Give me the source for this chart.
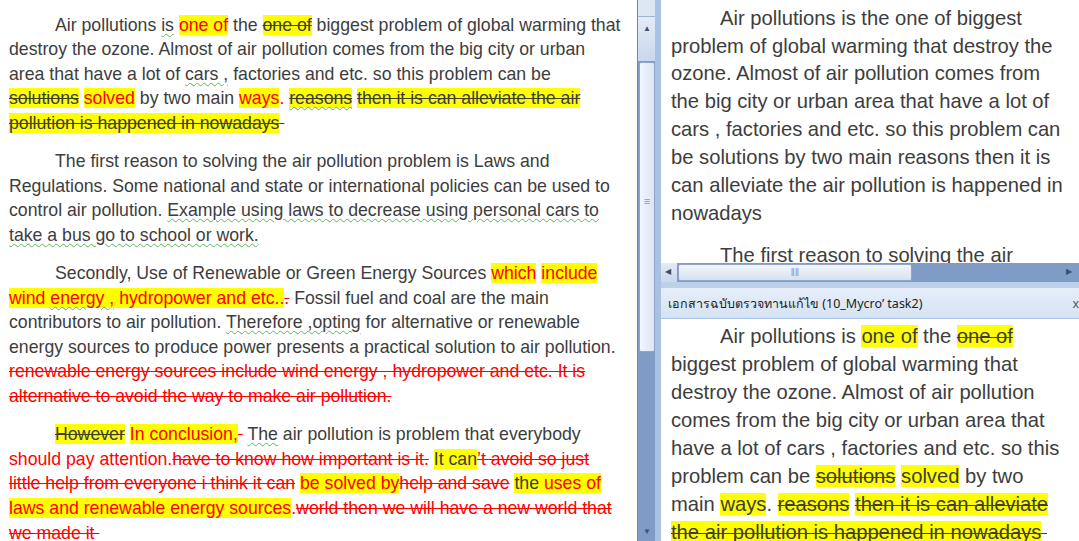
<!DOCTYPE html>
<html>
<head>
<meta charset="utf-8">
<script src="https://cdn.jsdelivr.net/npm/chart.js"></script>
<style>
  html, body { margin: 0; padding: 0; }
  body { width: 1079px; height: 541px; overflow: hidden; position: relative; background: #fff;
         font-family: "Liberation Sans", Arial, sans-serif; color: #3d3d3d; }
  .pane { position: absolute; overflow: hidden; background: #fff; }
  .line { white-space: pre; }
  .r { color: #ff0000; }
  .h { background: #ffff00; }
  .s { text-decoration: line-through; text-decoration-thickness: 1px; }
  .w { text-decoration: underline wavy #5cb85c; text-decoration-thickness: 1px; text-underline-offset: 2px; }
  #left { left: 0; top: 0; width: 637px; height: 541px; font-size: 17.7px; line-height: 24.6px; }
  #left .doc { padding: 12.5px 0 0 9px; }
  #left .para { margin-bottom: 13.6px; }
  #left .first { padding-left: 46px; }
  #vbar { position: absolute; left: 637px; top: 0; width: 18px; height: 541px; background: #7f9cc6; border-left: 1px solid #6d86ad; box-sizing: border-box; }
  #vbar .btn { position: absolute; left: 0; width: 17px; background: linear-gradient(#e3ebf6, #c9d8ec); }
  #vbar .thumb { position: absolute; left: 1px; width: 14px; top: 62px; height: 288px; border: 1px solid #8ea5c7; border-radius: 2px;
                 background: linear-gradient(90deg, #f3f6fb, #dbe5f2); color: #8a9ab3; font-size: 11px; text-align: center; }
  .tri { position: absolute; font-size: 8px; color: #3f4f6a; }
  #split { position: absolute; left: 655px; top: 0; width: 6px; height: 541px; background: #a9c1e3; }
  #rtop { left: 661px; top: 0; width: 418px; height: 263px; font-size: 20.2px; line-height: 27.9px; }
  #rbot { left: 661px; top: 320px; width: 418px; height: 221px; font-size: 20.2px; line-height: 28px; }
  .rdoc { padding-left: 10px; }
  #rtop .rdoc { padding-top: 4.6px; }
  #rbot .rdoc { padding-top: 1.5px; }
  .rdoc .para { margin-bottom: 14px; }
  .rdoc .first { padding-left: 49px; }
  #hbar { position: absolute; left: 661px; top: 263px; width: 418px; height: 19px; background: #7f9cc6; }
  #hbar .thumb { position: absolute; top: 1px; left: 17px; width: 232px; height: 15px; border: 1px solid #8ea5c7; border-radius: 2px;
                 background: linear-gradient(#f3f6fb, #d6e1f0); color: #8a9ab3; font-size: 10px; text-align: center; line-height: 15px; }
  #hbar .btn { position: absolute; top: 0; width: 16px; height: 19px; background: linear-gradient(#e3ebf6, #c9d8ec); }
  #strip { position: absolute; left: 661px; top: 282px; width: 418px; height: 6px; background: #bcd0ea; }
  #head { position: absolute; left: 661px; top: 288px; width: 418px; height: 31px; background: linear-gradient(#e6eef9, #d6e3f4);
          border-bottom: 1px solid #a9c1e3; box-sizing: border-box; font-family: "Noto Sans", "DejaVu Sans", sans-serif; font-size: 12.5px;
          line-height: 31px; padding-left: 7px; color: #222; white-space: pre; }
  #head .x { position: absolute; right: 0; top: 0; color: #555; }
</style>
</head>
<body>
<div class="pane" id="left"><div class="doc" id="leftDoc"></div></div>
<div id="vbar">
  <div class="btn" style="top:0;height:16px;background:#dde7f4;border-bottom:1px solid #9fb4d3"></div>
  <div class="btn" style="top:17px;height:44px"><span class="tri" style="left:5px;top:7px">&#9650;</span></div>
  <div class="thumb"><div style="margin-top:132px">&#8801;</div></div>
  <span class="tri" style="left:5px;top:527px">&#9660;</span>
</div>
<div id="split"></div>
<div class="pane" id="rtop"><div class="rdoc" id="rtopDoc"></div></div>
<div id="hbar">
  <div class="btn" style="left:0"><span class="tri" style="left:4px;top:4px">&#9664;</span></div>
  <div class="thumb">&#8214;&#8214;</div>
  <span class="tri" style="left:405px;top:4px">&#9654;</span>
</div>
<div id="strip"></div>
<div id="head"></div>
<div class="pane" id="rbot"><div class="rdoc" id="rbotDoc"></div></div>

<script>
// edited document, left pane (r = red, h = highlight, s = strike, w = wavy underline)
var leftPara1 = [
  [["Air pollutions ", ""], ["is", "w"], [" ", ""], ["one of", "rh"], [" the ", ""], ["one of", "hs"], [" biggest problem of global warming that", ""]],
  [["destroy the ozone. Almost of air pollution comes from the big city or urban", ""]],
  [["area that have a lot of ", ""], ["cars ,", "w"], [" factories and etc. so this problem can be", ""]],
  [["solutions", "hs"], [" ", ""], ["solved", "rh"], [" by two main ", ""], ["ways", "rh"], [".", "r"], [" ", ""], ["reasons", "hsw"], [" ", ""], ["then it is can alleviate the air", "hs"]],
  [["pollution is happened in nowadays", "hs"], [" ", "s"]]
];
var leftPara2 = [
  [["The first reason to solving the air pollution problem is Laws and", ""]],
  [["Regulations. Some national and state or international policies can be used to", ""]],
  [["control air pollution. ", ""], ["Example using laws to decrease using personal cars to", "w"]],
  [["take a bus go to school or work.", "w"]]
];
var leftPara3 = [
  [["Secondly, Use of Renewable or Green Energy Sources ", ""], ["which", "rh"], [" ", ""], ["include", "rh"]],
  [["wind ", "rh"], ["energy ,", "rhw"], [" hydropower and etc..", "rh"], [".", "rs"], [" Fossil fuel and coal are the main", ""]],
  [["contributors to air pollution. ", ""], ["Therefore ,opting", "w"], [" for alternative or renewable", ""]],
  [["energy sources to produce power presents a practical solution to air pollution.", ""]],
  [["renewable energy sources include wind energy , hydropower and etc. It is", "rs"]],
  [["alternative to avoid the way to make air pollution.", "rs"]]
];
var leftPara4 = [
  [["However", "hs"], [" ", ""], ["In conclusion,", "rh"], [" ", "rs"], [" ", ""], ["The", "w"], [" air pollution is problem that everybody", ""]],
  [["should pay attention.", "r"], ["have to know how important is it.", "rs"], [" ", ""], ["It can", "h"], ["\u2019t avoid so just", "rs"]],
  [["little help from everyone i think it can", "rs"], [" ", ""], ["be solved by", "rh"], ["help and save", "rs"], [" ", ""], ["the", "h"], [" uses of", "rh"]],
  [["laws and renewable energy sources", "rh"], [".", "r"], ["world then we will have a new world that", "rs"]],
  [["we made it ", "rs"]]
];

// final text, upper right pane
var topPara1 = [
  [["Air pollutions is the one of biggest", ""]],
  [["problem of global warming that destroy the", ""]],
  [["ozone. Almost of air pollution comes from", ""]],
  [["the big city or urban area that have a lot of", ""]],
  [["cars , factories and etc. so this problem can", ""]],
  [["be solutions by two main reasons then it is", ""]],
  [["can alleviate the air pollution is happened in", ""]],
  [["nowadays", ""]]
];
var topPara2 = [
  [["The first reason to solving the air", ""]]
];

// reviewing pane, lower right
var reviewTitle = "\u0e40\u0e2d\u0e01\u0e2a\u0e32\u0e23\u0e09\u0e1a\u0e31\u0e1a\u0e15\u0e23\u0e27\u0e08\u0e17\u0e32\u0e19\u0e41\u0e01\u0e49\u0e44\u0e02 (10_Mycro\u2019 task2)";
var reviewPara1 = [
  [["Air pollutions is ", ""], ["one of", "h"], [" the ", ""], ["one of", "hs"]],
  [["biggest problem of global warming that", ""]],
  [["destroy the ozone. Almost of air pollution", ""]],
  [["comes from the big city or urban area that", ""]],
  [["have a lot of cars , factories and etc. so this", ""]],
  [["problem can be ", ""], ["solutions", "hs"], [" ", ""], ["solved", "h"], [" by two", ""]],
  [["main ", ""], ["ways", "h"], [". ", ""], ["reasons", "hs"], [" ", ""], ["then it is can alleviate", "hs"]],
  [["the air pollution is happened in nowadays", "hs"], [" ", "s"]]
];

function seg(text, flags) {
  var el = document.createElement("span");
  el.textContent = text;
  if (flags.indexOf("r") >= 0) el.className += " r";
  if (flags.indexOf("h") >= 0) el.className += " h";
  if (flags.indexOf("s") >= 0) el.className += " s";
  if (flags.indexOf("w") >= 0) {
    var wrap = document.createElement("span");
    wrap.className = "w";
    wrap.appendChild(el);
    return wrap;
  }
  return el;
}

function addPara(target, lines) {
  var p = document.createElement("div");
  p.className = "para";
  lines.forEach(function (line, i) {
    var d = document.createElement("div");
    d.className = "line" + (i == 0 ? " first" : "");
    line.forEach(function (s) { d.appendChild(seg(s[0], s[1])); });
    p.appendChild(d);
  });
  document.getElementById(target).appendChild(p);
}

addPara("leftDoc", leftPara1);
addPara("leftDoc", leftPara2);
addPara("leftDoc", leftPara3);
addPara("leftDoc", leftPara4);
addPara("rtopDoc", topPara1);
addPara("rtopDoc", topPara2);
addPara("rbotDoc", reviewPara1);

var head = document.getElementById("head");
head.textContent = reviewTitle;
var x = document.createElement("span");
x.className = "x";
x.textContent = "x";
head.appendChild(x);
</script>
</body>
</html>
